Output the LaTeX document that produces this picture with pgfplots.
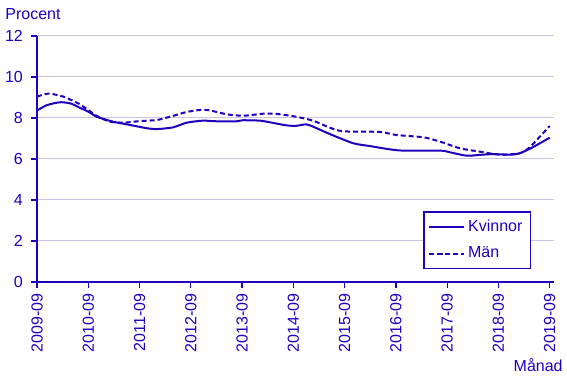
\documentclass[border=0pt]{standalone}
\usepackage{fontspec}
\setmainfont{Liberation Sans}
\usepackage{pgfplots}
\pgfplotsset{compat=1.18}
\definecolor{scb}{RGB}{30,0,190}
\definecolor{gridc}{RGB}{200,198,230}
\begin{document}
\fontsize{8}{9.5}\selectfont
\begin{tikzpicture}
\useasboundingbox (-18.5pt,-48pt) rectangle (265pt,141pt);
\begin{axis}[at={(0,0)}, anchor=south west, scale only axis,
  width=258.5pt, height=123pt,
  xmin=0, xmax=121, ymin=0, ymax=12,
  ytick={0,2,...,12}, xtick={0,12,...,120},
  xticklabels={2009-09,2010-09,2011-09,2012-09,2013-09,2014-09,2015-09,2016-09,2017-09,2018-09,2019-09},
  axis x line*=bottom, axis y line*=left,
  ymajorgrids, grid style={gridc, line width=0.5pt},
  axis line style={scb, line width=0.6pt},
  tick style={scb, line width=0.6pt},
  tick align=outside, major tick length=3pt,
  ticklabel style={font=\fontsize{8}{9.5}\selectfont, text=scb},
  /pgf/number format/assume math mode=true,
  x tick label style={rotate=90, anchor=east},
  y tick label style={xshift=-1.2pt},
  legend style={at={(rel axis cs:0.9555,0.053)}, anchor=south east, draw=scb, line width=0.6pt,
    text=scb, font=\fontsize{8}{9.5}\selectfont, row sep=2.5pt, inner xsep=2pt, inner ysep=2pt},
  legend cell align=left,
  clip=false,
]
\addplot[scb, line width=1pt, smooth, tension=0.4] coordinates {
(0,8.36) (2,8.6) (4,8.72) (5.8,8.77) (8,8.7) (10,8.5) (12,8.31) (14,8.06) (17.8,7.82) (21.8,7.66) (25.7,7.50) (28,7.46) (31.8,7.54) (35,7.77) (38.8,7.87) (42,7.84) (46.7,7.84) (48.2,7.89) (52.2,7.87) (54.5,7.79) (58.4,7.64) (60.7,7.62) (63,7.69) (64.6,7.58) (68.5,7.22) (74,6.77) (77.9,6.63) (82.6,6.47) (85.6,6.41) (94.3,6.41) (96.6,6.33) (100.5,6.16) (103.6,6.2) (106.7,6.24) (110.6,6.21) (113,6.28) (116,6.57) (120,7.04)
};
\addlegendentry{Kvinnor}
\addplot[scb, line width=1pt, dash pattern=on 2.5pt off 1.5pt, smooth, tension=0.4] coordinates {
(0,9.04) (2.7,9.19) (6.2,9.04) (10,8.67) (14,8.1) (17.1,7.82) (20.2,7.77) (24.1,7.85) (28,7.9) (31.1,8.06) (35,8.29) (38.1,8.39) (40.5,8.37) (44.4,8.18) (48.3,8.11) (53,8.21) (56.1,8.2) (60.7,8.06) (64.6,7.87) (68.5,7.53) (71.7,7.35) (80.2,7.32) (84.1,7.17) (90.4,7.06) (94.3,6.85) (99,6.52) (103.6,6.36) (108.3,6.21) (113,6.28) (115.3,6.57) (120,7.61)
};
\addlegendentry{Män}
\node[anchor=base west, text=scb, inner sep=0pt] at ([xshift=-16pt,yshift=8pt]rel axis cs:0,1) {Procent};
\node[anchor=base east, text=scb, inner sep=0pt] at ([xshift=4.5pt,yshift=-45pt]rel axis cs:1,0) {Månad};
\end{axis}
\end{tikzpicture}
\end{document}
